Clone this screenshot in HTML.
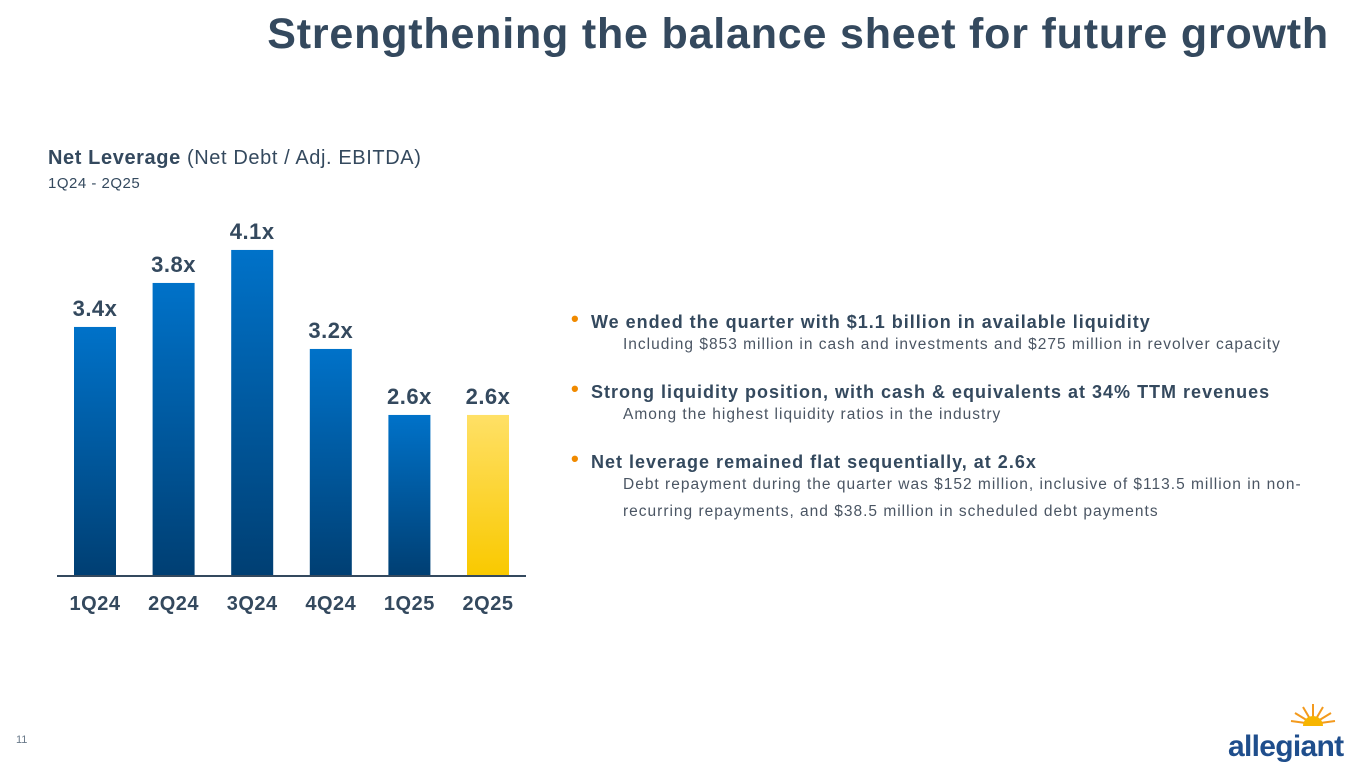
<!DOCTYPE html>
<html><head><meta charset="utf-8">
<style>
body{margin:0;width:1365px;height:768px;background:#fff;font-family:"Liberation Sans",sans-serif;overflow:hidden;position:relative;color:#33475b}
.abs{position:absolute}
#title{right:36px;top:10px;font-size:43px;font-weight:bold;color:#34495e;white-space:nowrap;letter-spacing:0.8px}
#ct{left:48px;top:147px;font-size:20px;color:#34495e;letter-spacing:0.6px}
#cs{left:48px;top:175px;font-size:15px;color:#34495e;letter-spacing:0.5px}
.b{font-size:18px;font-weight:bold;color:#34495e;white-space:nowrap;letter-spacing:1px}
.b:before{content:"•";color:#f08a00;position:absolute;left:-20px;top:-6px;font-size:22px}
.s{font-size:15.5px;color:#4a5563;white-space:nowrap;line-height:27px;letter-spacing:1px}
</style></head><body>
<div id="title" class="abs">Strengthening the balance sheet for future growth</div>
<div id="ct" class="abs"><b>Net Leverage</b> (Net Debt / Adj. EBITDA)</div>
<div id="cs" class="abs">1Q24 - 2Q25</div>
<svg class="abs" style="left:0;top:0" width="560" height="640">
<defs>
<linearGradient id="gb" x1="0" y1="0" x2="0" y2="1"><stop offset="0" stop-color="#0072c9"/><stop offset="1" stop-color="#003f73"/></linearGradient>
<linearGradient id="gy" x1="0" y1="0" x2="0" y2="1"><stop offset="0" stop-color="#ffe066"/><stop offset="1" stop-color="#f9c900"/></linearGradient>
</defs>
<g id="bars"></g>
<line x1="57" x2="526" y1="576" y2="576" stroke="#34495e" stroke-width="2"/>
</svg>
<script>
const categories=["1Q24","2Q24","3Q24","4Q24","1Q25","2Q25"];
const values=[3.4,3.8,4.1,3.2,2.6,2.6];
const labels=["3.4x","3.8x","4.1x","3.2x","2.6x","2.6x"];
const highlight=[false,false,false,false,false,true];
const base=575,vmin=1.145,scale=110;
function y(v){return base-(v-vmin)*scale;}
function x(i){return 74+i*78.6;}
const g=document.getElementById('bars');const ns="http://www.w3.org/2000/svg";
categories.forEach((c,i)=>{
 const r=document.createElementNS(ns,'rect');
 
 
 r.setAttribute('x',x(i));r.setAttribute('width',42);r.setAttribute('y',y(values[i]));r.setAttribute('height',base-y(values[i]));
 r.setAttribute('fill',highlight[i]?'url(#gy)':'url(#gb)');g.appendChild(r);
 const t=document.createElementNS(ns,'text');
 
 
 t.setAttribute('x',x(i)+21);t.setAttribute('y',y(values[i])-11);t.setAttribute('text-anchor','middle');
 t.setAttribute('font-size','22');t.setAttribute('font-weight','bold');t.setAttribute('fill','#34495e');t.setAttribute('font-family','Liberation Sans, sans-serif');t.setAttribute('letter-spacing','0.5');
 t.textContent=labels[i];g.appendChild(t);
 const l=document.createElementNS(ns,'text');
 
 
 l.setAttribute('x',x(i)+21);l.setAttribute('y',610);l.setAttribute('text-anchor','middle');
 l.setAttribute('font-size','20');l.setAttribute('font-weight','bold');l.setAttribute('fill','#34495e');l.setAttribute('font-family','Liberation Sans, sans-serif');l.setAttribute('letter-spacing','0.5');
 l.textContent=c;g.appendChild(l);
});
</script>
<div class="abs b" style="left:591px;top:312px">We ended the quarter with $1.1 billion in available liquidity</div>
<div class="abs s" style="left:623px;top:331px">Including $853 million in cash and investments and $275 million in revolver capacity</div>
<div class="abs b" style="left:591px;top:382px">Strong liquidity position, with cash &amp; equivalents at 34% TTM revenues</div>
<div class="abs s" style="left:623px;top:401px">Among the highest liquidity ratios in the industry</div>
<div class="abs b" style="left:591px;top:452px">Net leverage remained flat sequentially, at 2.6x</div>
<div class="abs s" style="left:623px;top:471px">Debt repayment during the quarter was $152 million, inclusive of $113.5 million in non-<br>recurring repayments, and $38.5 million in scheduled debt payments</div>
<div class="abs" style="left:16px;top:734px;font-size:11px;color:#6a7a8a">11</div>
<svg class="abs" style="left:1227px;top:700px" width="135" height="62">
<g stroke="#f39a1e" stroke-width="2">
<line x1="86" y1="24" x2="86" y2="4"/><line x1="86" y1="24" x2="76" y2="7"/><line x1="86" y1="24" x2="96" y2="7"/><line x1="86" y1="24" x2="68" y2="13"/><line x1="86" y1="24" x2="104" y2="13"/><line x1="86" y1="24" x2="64" y2="21"/><line x1="86" y1="24" x2="108" y2="21"/>
</g>
<path d="M76 26 A10 10 0 0 1 96 26 Z" fill="#f7b500"/>
<text x="1" y="56" font-size="30" font-weight="bold" fill="#1f4e8c" font-family="Liberation Sans, sans-serif" letter-spacing="-0.7">allegiant</text>
</svg>
</body></html>
